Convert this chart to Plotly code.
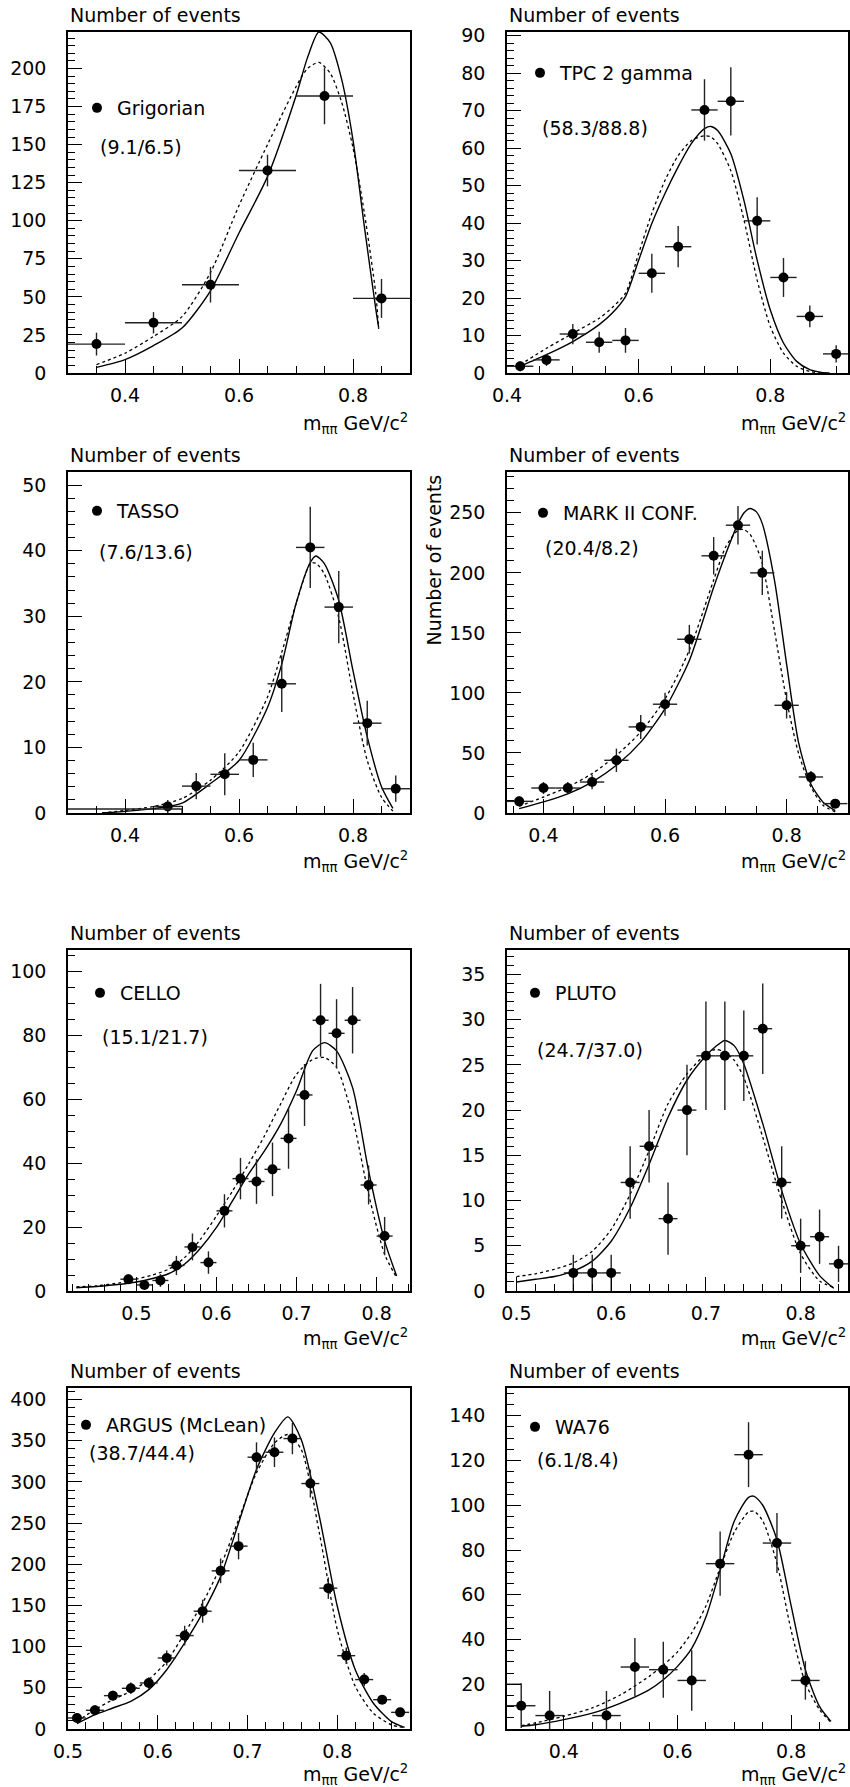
import plotly.graph_objects as go

# ---------------- data ----------------
# 1 Grigorian
grig_x = [0.35, 0.45, 0.55, 0.65, 0.75, 0.85]
grig_y = [19, 33, 58, 133, 182, 49]
grig_err = [7.5, 7, 11.7, 10.4, 18.6, 12.8]
grig_fit_x = [0.35, 0.40, 0.45, 0.50, 0.55, 0.60, 0.65, 0.70, 0.72, 0.74, 0.76, 0.78, 0.80, 0.82, 0.84, 0.845]
grig_solid = [3.7, 8.8, 18, 29.5, 54, 92, 129, 182, 207, 224, 217, 193, 153, 96, 42, 30]
grig_dotted = [5.5, 13, 24, 37, 66, 110, 150, 188, 200, 204, 197, 178, 148, 105, 52, 29]

# 2 TPC 2 gamma
tpc_x = [0.42, 0.46, 0.50, 0.54, 0.58, 0.62, 0.66, 0.70, 0.74, 0.78, 0.82, 0.86, 0.90]
tpc_y = [1.8, 3.5, 10.4, 8.2, 8.7, 26.6, 33.7, 70.2, 72.5, 40.6, 25.5, 15.1, 5.1]
tpc_err = [1.3, 1.6, 2.7, 2.8, 3.3, 5.2, 5.5, 8.2, 9.1, 6.3, 5.2, 2.9, 2.3]
tpc_fit_x = [0.42, 0.46, 0.50, 0.54, 0.56, 0.58, 0.60, 0.62, 0.64, 0.66, 0.68, 0.70, 0.71, 0.72,
             0.74, 0.76, 0.78, 0.80, 0.82, 0.84, 0.86, 0.88, 0.89]
tpc_solid = [1.8, 4.9, 8.4, 12.9, 16, 20.4, 30.1, 39.9, 47.9, 55, 61.2, 65.2, 65.8, 64.7,
             58.5, 46, 30.1, 16.8, 8, 3.1, 0.9, 0.1, 0]
tpc_dotted = [2.2, 6.6, 10.6, 14.6, 17.5, 21.3, 31.9, 42.6, 51.4, 58, 62, 63.3, 63, 61.2,
              54, 40.8, 24.8, 12.4, 5.3, 1.8, 0.4, 0, 0]

# 3 TASSO
tasso_x = [0.475, 0.525, 0.575, 0.625, 0.675, 0.725, 0.775, 0.825, 0.875]
tasso_y = [1.0, 4.1, 5.9, 8.1, 19.7, 40.5, 31.4, 13.7, 3.7]
tasso_err = [1.0, 2.0, 3.2, 2.6, 4.3, 6.2, 5.5, 3.4, 2.0]
tasso_low_x = [0.3, 0.5, 0.5]
tasso_low_y = [0.6, 0.6, 0]
tasso_fit_x = [0.36, 0.40, 0.45, 0.50, 0.55, 0.60, 0.65, 0.675, 0.70, 0.725, 0.735, 0.75, 0.775, 0.80, 0.825, 0.85, 0.87]
tasso_solid = [0, 0.25, 0.66, 1.5, 4.5, 8, 16.1, 22.7, 31.9, 38.2, 39.2, 38, 32.4, 21.7, 11.6, 4, 0.7]
tasso_dotted = [0, 0.4, 1, 2.2, 5, 9.3, 17.7, 24.5, 31.9, 38, 38.1, 36.4, 29.8, 18.2, 8, 2.4, 0.3]

# 4 MARK II CONF.
mark_x = [0.36, 0.40, 0.44, 0.48, 0.52, 0.56, 0.60, 0.64, 0.68, 0.72, 0.76, 0.80, 0.84, 0.88]
mark_y = [9.7, 20.8, 20.8, 25.8, 43.9, 71.7, 90.6, 144.7, 214.2, 239.7, 200, 89.7, 30, 7.8]
mark_err = [4, 5, 5, 6, 9.7, 10, 9.6, 12, 15.6, 16, 18.5, 11, 5, 3]
mark_fit_x = [0.36, 0.40, 0.44, 0.48, 0.52, 0.56, 0.60, 0.64, 0.68, 0.70, 0.72, 0.73, 0.74, 0.75,
              0.76, 0.78, 0.80, 0.82, 0.84, 0.86, 0.88]
mark_solid = [3.6, 9.2, 16, 25.8, 39.7, 59, 87, 127, 188, 216, 241, 250, 253.6, 251,
              241, 194, 124, 58, 24, 9, 2]
mark_dotted = [5.6, 13.3, 21.7, 32.8, 48, 67.5, 95, 135.6, 194, 221.7, 235.6, 236, 232, 222,
               208, 152, 94, 49, 21.7, 6.4, 1]

# 5 CELLO
cello_x = [0.49, 0.51, 0.53, 0.55, 0.57, 0.59, 0.61, 0.63, 0.65, 0.67, 0.69, 0.71, 0.73, 0.75, 0.77, 0.79, 0.81]
cello_y = [3.7, 1.9, 3.3, 8.0, 13.8, 8.9, 25.1, 35.2, 34.3, 38.1, 47.8, 61.4, 84.8, 80.7, 84.8, 33.2, 17.2]
cello_err = [1.5, 1.3, 2, 3, 4.2, 3.5, 5.2, 6.5, 7, 8.4, 9.5, 9.7, 11.4, 10.7, 10.4, 6.1, 6]
cello_fit_x = [0.425, 0.45, 0.48, 0.50, 0.52, 0.54, 0.56, 0.58, 0.60, 0.62, 0.64, 0.66, 0.68, 0.70,
               0.72, 0.735, 0.75, 0.77, 0.79, 0.81, 0.825]
cello_solid = [1.0, 1.4, 2.1, 2.8, 3.9, 5.4, 8.4, 13.4, 19.9, 28.2, 36.6, 43.9, 52.2, 62.7,
               75.2, 77.8, 75.2, 63.7, 37.6, 15.7, 4.7]
cello_dotted = [1.3, 1.6, 2.6, 3.7, 5, 6.8, 10.4, 16.2, 23.5, 31.3, 39.7, 48.6, 58.5, 67.9,
                72.5, 73.1, 70, 54.3, 30.3, 11.5, 4.2]

# 6 PLUTO
pluto_x = [0.56, 0.58, 0.60, 0.62, 0.64, 0.66, 0.68, 0.70, 0.72, 0.74, 0.76, 0.78, 0.80, 0.82, 0.84]
pluto_y = [2, 2, 2, 12, 16, 8, 20, 26, 26, 26, 29, 12, 5, 6, 3]
pluto_err = [2, 2, 2, 4, 4, 4, 5, 6, 6, 5, 5, 4, 3, 3, 2]
pluto_fit_x = [0.50, 0.52, 0.54, 0.56, 0.58, 0.60, 0.62, 0.64, 0.66, 0.68, 0.70, 0.71, 0.72, 0.73,
               0.74, 0.76, 0.78, 0.80, 0.82, 0.835]
pluto_solid = [1.0, 1.3, 1.6, 2.2, 3.3, 5.5, 9.2, 14, 19.2, 23.3, 26, 27, 27.7, 27.1,
               25.1, 18.5, 11.1, 5.2, 1.7, 0.3]
pluto_dotted = [1.6, 1.9, 2.4, 3.1, 4.4, 6.8, 10.7, 15.5, 20.7, 24, 26.2, 26.7, 26.4, 25.5,
                23.6, 17, 10, 4.1, 1.1, 0.4]

# 7 ARGUS (McLean)
argus_x = [0.51, 0.53, 0.55, 0.57, 0.59, 0.61, 0.63, 0.65, 0.67, 0.69, 0.71, 0.73, 0.75, 0.77,
           0.79, 0.81, 0.83, 0.85, 0.87]
argus_y = [13.4, 22.7, 40.5, 49.4, 55.9, 86.2, 113.4, 143, 192, 222, 330, 336, 352.6, 298,
           171, 89, 60, 35.6, 20.2]
argus_err = [5, 6, 6, 7, 7, 9, 12, 14, 15, 16, 18, 18, 19, 17, 13, 10, 8, 5, 4]
argus_fit_x = [0.51, 0.53, 0.55, 0.57, 0.59, 0.61, 0.63, 0.65, 0.67, 0.69, 0.71, 0.73, 0.745,
               0.76, 0.78, 0.80, 0.82, 0.84, 0.86, 0.875]
argus_solid = [6.5, 17.4, 25.5, 33.6, 47.8, 72, 104.5, 141, 185, 250, 315, 359.5, 379,
               351, 258, 149, 72, 31.6, 9.3, 2]
argus_dotted = [9.3, 23.5, 35.6, 45.7, 60, 82, 116.6, 153, 197.6, 254, 311, 347, 357.5,
                339, 238, 120.6, 51.8, 19.4, 5.3, 1.5]

# 8 WA76
wa_x = [0.325, 0.375, 0.475, 0.525, 0.575, 0.625, 0.675, 0.725, 0.775, 0.825]
wa_y = [10.4, 6, 6, 27.7, 26.5, 21.7, 73.9, 122.6, 83.1, 21.7]
wa_err = [10, 11, 11, 13, 12.5, 13.5, 14.4, 14.5, 13.4, 8.6]
wa_low_x = [0.3, 0.325]
wa_low_y = [20, 20]
wa_fit_x = [0.325, 0.35, 0.40, 0.45, 0.50, 0.55, 0.575, 0.60, 0.625, 0.65, 0.675, 0.70, 0.725,
            0.735, 0.75, 0.775, 0.80, 0.825, 0.85, 0.87]
wa_solid = [1.2, 1.9, 4.2, 7.1, 11.6, 17.5, 22, 28, 36, 50, 71, 93, 103.5,
            104, 100, 84.6, 55, 26.5, 10, 3.4]
wa_dotted = [1.5, 2.7, 5.7, 9.4, 15.3, 23.5, 28.5, 34.5, 43, 55, 72, 88, 97,
             97.3, 93, 74, 44, 20.6, 8.6, 3]

names = ["Grigorian", "TPC 2 gamma", "TASSO", "MARK II CONF.", "CELLO", "PLUTO",
         "ARGUS (McLean)", "WA76"]
chi2_labels = ["(9.1/6.5)", "(58.3/88.8)", "(7.6/13.6)", "(20.4/8.2)", "(15.1/21.7)",
               "(24.7/37.0)", "(38.7/44.4)", "(6.1/8.4)"]

# ---------------- layout helpers ----------------
W, H = 850, 1787
FONT = "DejaVu Sans"
FS = 19


def px(x):
    return x / W


def py(y):
    return 1 - y / H


col_x = [(68, 410), (507, 848)]
row_y = [(32, 373), (472, 813), (950, 1291), (1388, 1729)]
xlabel_gap = [50, 48, 47, 45]

panels = [
    dict(data=(grig_x, grig_y, grig_err, 0.05), fit=(grig_fit_x, grig_solid, grig_dotted),
         xr=[0.3, 0.9], xd=0.2, xm=0.05, yr=[0, 224], yd=25, ym=5,
         leg=(97, 108), chi=(98, 147)),
    dict(data=(tpc_x, tpc_y, tpc_err, 0.02), fit=(tpc_fit_x, tpc_solid, tpc_dotted),
         xr=[0.4, 0.918], xd=0.2, xm=0.05, yr=[0, 91], yd=10, ym=2,
         leg=(540, 73), chi=(540, 128)),
    dict(data=(tasso_x, tasso_y, tasso_err, 0.025), fit=(tasso_fit_x, tasso_solid, tasso_dotted),
         xr=[0.3, 0.9], xd=0.2, xm=0.05, yr=[0, 52], yd=10, ym=2,
         leg=(97, 511), chi=(97, 552)),
    dict(data=(mark_x, mark_y, mark_err, 0.02), fit=(mark_fit_x, mark_solid, mark_dotted),
         xr=[0.34, 0.901], xd=0.2, xm=0.05, yr=[0, 284], yd=50, ym=10,
         leg=(543, 513), chi=(543, 548)),
    dict(data=(cello_x, cello_y, cello_err, 0.01), fit=(cello_fit_x, cello_solid, cello_dotted),
         xr=[0.4146, 0.8417], xd=0.1, xm=0.02, yr=[0, 106.8], yd=20, ym=5,
         leg=(100, 993), chi=(100, 1037)),
    dict(data=(pluto_x, pluto_y, pluto_err, 0.01), fit=(pluto_fit_x, pluto_solid, pluto_dotted),
         xr=[0.49, 0.85], xd=0.1, xm=0.02, yr=[0, 37.7], yd=5, ym=1,
         leg=(535, 993), chi=(535, 1050)),
    dict(data=(argus_x, argus_y, argus_err, 0.01), fit=(argus_fit_x, argus_solid, argus_dotted),
         xr=[0.5, 0.881], xd=0.1, xm=0.02, yr=[0, 414], yd=50, ym=10,
         leg=(86, 1425), chi=(87, 1453)),
    dict(data=(wa_x, wa_y, wa_err, 0.025), fit=(wa_fit_x, wa_solid, wa_dotted),
         xr=[0.3, 0.9], xd=0.2, xm=0.05, yr=[0, 152.4], yd=20, ym=5,
         leg=(535, 1427), chi=(535, 1460)),
]

fig = go.Figure()
annotations = []
layout = dict(width=W, height=H, margin=dict(l=0, r=0, t=0, b=0, autoexpand=False),
              paper_bgcolor="white", plot_bgcolor="white",
              font=dict(family=FONT, size=FS, color="black"))

for i, p in enumerate(panels):
    n = "" if i == 0 else str(i + 1)
    xa, ya = "x" + n, "y" + n
    r, c = divmod(i, 2)
    x0, x1 = col_x[c]
    y0, y1 = row_y[r]
    leg_name = "legend" + n

    fx, fs, fd = p["fit"]
    fig.add_trace(go.Scatter(x=fx, y=fs, mode="lines", xaxis=xa, yaxis=ya, showlegend=False,
                             line=dict(color="black", width=1.4, shape="spline", smoothing=0.7),
                             hoverinfo="skip"))
    fig.add_trace(go.Scatter(x=fx, y=fd, mode="lines", xaxis=xa, yaxis=ya, showlegend=False,
                             line=dict(color="black", width=1.3, dash="dot", shape="spline", smoothing=0.7),
                             hoverinfo="skip"))
    dx, dy, de, dxe = p["data"]
    fig.add_trace(go.Scatter(x=dx, y=dy, mode="markers", xaxis=xa, yaxis=ya,
                             name=names[i], legend=leg_name, showlegend=True,
                             marker=dict(color="black", size=10, symbol="circle"),
                             error_y=dict(type="data", array=de, color="#222", thickness=1.4, width=0),
                             error_x=dict(type="constant", value=dxe, color="#222", thickness=1.4, width=0)))

    axis_common = dict(showline=True, linecolor="black", linewidth=1.5, mirror=True,
                       showgrid=False, zeroline=False, ticks="inside", ticklen=14,
                       tickwidth=1.2, tickcolor="black", automargin=False,
                       tickfont=dict(family=FONT, size=FS, color="black"))
    layout["xaxis" + n] = dict(axis_common, domain=[px(x0), px(x1)], range=p["xr"], anchor=ya,
                               dtick=p["xd"], tick0=0, ticklabelstandoff=4,
                               minor=dict(ticks="inside", ticklen=7, tickwidth=1, tickcolor="black",
                                          dtick=p["xm"], tick0=0, showgrid=False))
    layout["yaxis" + n] = dict(axis_common, domain=[py(y1), py(y0)], range=p["yr"], anchor=xa,
                               dtick=p["yd"], tick0=0, ticklabelstandoff=16,
                               minor=dict(ticks="inside", ticklen=7, tickwidth=1, tickcolor="black",
                                          dtick=p["ym"], tick0=0, showgrid=False))
    lx, ly = p["leg"]
    layout[leg_name] = dict(x=px(lx - 20), y=py(ly), xanchor="left", yanchor="middle",
                            bgcolor="rgba(0,0,0,0)", borderwidth=0, itemwidth=30,
                            font=dict(family=FONT, size=FS, color="black"))

    # panel texts
    annotations.append(dict(text="Number of events", x=px(x0), y=py(y0 - 17), xref="paper", yref="paper",
                            xanchor="left", yanchor="middle", showarrow=False))
    annotations.append(dict(text="m<sub>ππ</sub> GeV/c<sup>2</sup>", x=px(x1), y=py(y1 + xlabel_gap[r]),
                            xref="paper", yref="paper", xanchor="right", yanchor="middle",
                            showarrow=False))
    cx, cy = p["chi"]
    annotations.append(dict(text=chi2_labels[i], x=px(cx), y=py(cy), xref="paper", yref="paper",
                            xanchor="left", yanchor="middle", showarrow=False))

# extra bin outlines
fig.add_trace(go.Scatter(x=tasso_low_x, y=tasso_low_y, mode="lines", xaxis="x3", yaxis="y3",
                         showlegend=False, line=dict(color="#222", width=1.4), hoverinfo="skip"))
fig.add_trace(go.Scatter(x=wa_low_x, y=wa_low_y, mode="lines", xaxis="x8", yaxis="y8",
                         showlegend=False, line=dict(color="#222", width=1.4), hoverinfo="skip"))

# MARK II vertical axis title
annotations.append(dict(text="Number of events", x=px(433), y=py(473), xref="paper", yref="paper",
                        xanchor="center", yanchor="top", textangle=-90, showarrow=False))

layout["annotations"] = annotations
fig.update_layout(**layout)
fig.write_html("out.html", config={"displayModeBar": False},
               post_script="document.body.style.margin='0';document.body.style.overflow='hidden';")
